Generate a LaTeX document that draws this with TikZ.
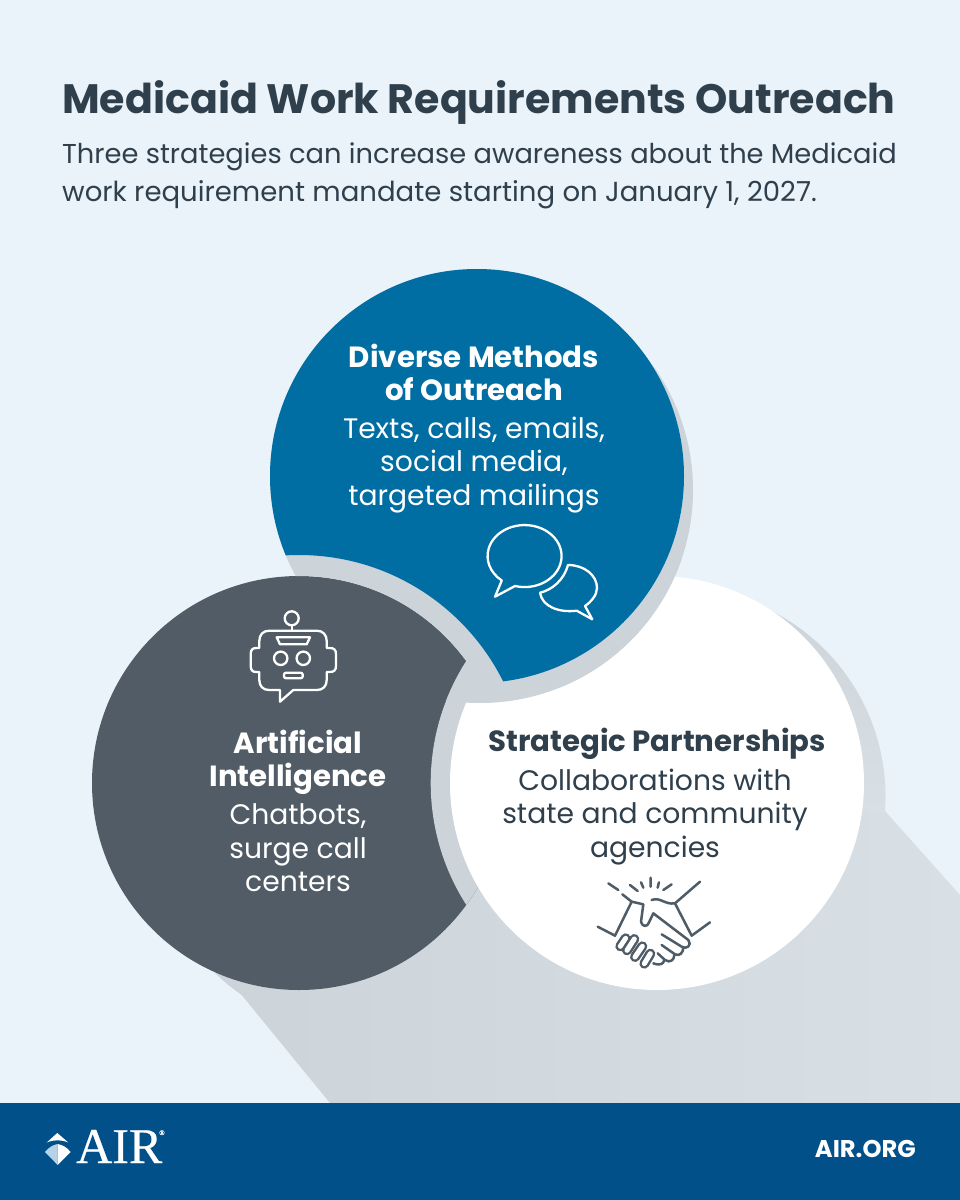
\documentclass[tikz,border=0pt]{standalone}
\usepackage{fontspec}
\setmainfont{Poppins}
\newfontfamily\logofont[FakeBold=0.5]{Liberation Serif}
\definecolor{pagebg}{HTML}{EAF3FA}
\definecolor{shadowgrey}{HTML}{CCD3D9}
\definecolor{shadowlight}{HTML}{D9E0E5}
\definecolor{airblue}{HTML}{006EA3}
\definecolor{slategrey}{HTML}{515C66}
\definecolor{inkdark}{HTML}{2F3F4C}
\definecolor{footerblue}{HTML}{02508A}
\definecolor{logolight}{HTML}{B5D2E6}
\tikzset{
  headfont/.style={font=\fontsize{29.2}{33}\selectfont\bfseries,align=center},
  bodyfont/.style={font=\fontsize{28.2}{33.5}\selectfont,align=center},
  iconwhite/.style={draw=white,line width=2.3pt,line join=round,line cap=round},
  icondark/.style={draw=inkdark!85,line width=2.5pt,line join=round,line cap=round},
}
\newcommand{\bluedisc}{(477,476) circle[radius=207]}
\newcommand{\bluecast}{(480,490) circle[radius=213]}
\newcommand{\greydisc}{(299,783) circle[radius=207]}
\newcommand{\greycast}{(299,783) circle[radius=228]}
\newcommand{\whitedisc}{(657,783) circle[radius=207]}
\newcommand{\whitecast}{(657,783) circle[radius=226.3]}
\newcommand{\pagerect}{(0,0) rectangle (960,1200)}
\begin{document}
\begin{tikzpicture}[x=1pt,y=-1pt]
  \useasboundingbox (0,0) rectangle (960,1200);
  \fill[pagebg] \pagerect;

  % long shadow
  \shade[left color=shadowgrey,right color=shadowlight]
    (215,973) .. controls (223,981) and (232,988) .. (241.7,995) -- (330,1103) -- (960,1103) -- (960,895) -- (885,811)
    -- (657,783) -- cycle;
  \shade[top color=shadowgrey,bottom color=shadowlight]
    (885,811) arc[start angle=4,end angle=-90,radius=208] -- (677,811) -- cycle;

  % grey disc
  \fill[slategrey] \greydisc;
  \begin{scope}
    \clip \greydisc;
    \fill[shadowgrey] \whitecast;
  \end{scope}

  % white disc
  \fill[white] \whitedisc;
  \begin{scope}
    \clip \whitecast;
    \fill[shadowgrey] \bluecast;
  \end{scope}
  \begin{scope}
    \clip (560,300) rectangle (720,720);
    \fill[shadowgrey] \bluecast;
  \end{scope}

  % blue disc
  \begin{scope}[even odd rule]
    \clip \bluedisc;
    \clip \pagerect \greydisc;
    \fill[shadowgrey] \bluedisc;
  \end{scope}
  \begin{scope}[even odd rule]
    \clip \pagerect \greycast;
    \fill[airblue] \bluedisc;
  \end{scope}

  % title
  \node[anchor=base west,inner sep=0pt,text=inkdark,font=\fontsize{41.1}{46}\selectfont\bfseries] (title) at (62,113) {Medicaid Work Requirements Outreach};
  \node[anchor=base west,inner sep=0pt,text=inkdark,font=\fontsize{27.3}{38}\selectfont,align=left] (subtitle) at (62,201) {Three strategies can increase awareness about the Medicaid\\{\fontsize{27.55}{38}\selectfont work requirement mandate starting on January 1, 2027.}};

  % circle texts
  \node[headfont,text=white,inner sep=0pt] (methodshead) at (474,372.5) {Diverse Methods\\of Outreach};
  \node[bodyfont,text=white,inner sep=0pt] (methodsbody) at (474,465) {Texts, calls, emails,\\social media,\\targeted mailings};
  \node[headfont,text=white,inner sep=0pt] (aihead) at (298,762.5) {Artificial\\Intelligence};
  \node[bodyfont,text=white,inner sep=0pt] (aibody) at (298,848) {Chatbots,\\surge call\\centers};
  \node[headfont,text=inkdark,inner sep=0pt] (partnerhead) at (657,744) {Strategic Partnerships};
  \node[bodyfont,text=inkdark,inner sep=0pt] (partnerbody) at (655,817) {Collaborations with\\state and community\\agencies};

  % chat icon
  \draw[iconwhite] (515,586) arc[start angle=105,end angle=-232,x radius=37,y radius=31]
    -- (495,596.7) -- cycle;
  \draw[iconwhite] (568,565) .. controls (584,565) and (597,575) .. (597,588)
    .. controls (597,595) and (591,602) .. (585,606) -- (592.3,619.3) -- (576.7,610.7)
    .. controls (558,613) and (542,606) .. (540,592.7)
    .. controls (552,590) and (564,580) .. cycle;

  % robot icon
  \draw[iconwhite] (291.7,618.3) circle[radius=7];
  \draw[iconwhite] (291.7,625.3) -- (291.7,630.7);
  \draw[iconwhite] (269,630.7) -- (317,630.7) .. controls (323,630.7) and (326.7,635) .. (326.7,641)
    -- (326.7,648) -- (330,648) .. controls (334,648) and (336,650) .. (336,654)
    -- (336,666) .. controls (336,670) and (334,672) .. (330,672) -- (326.7,672) -- (326.7,680)
    .. controls (326.7,686) and (323,690) .. (317,690) -- (293.3,690) -- (280,701.7) -- (280,690)
    -- (269,690) .. controls (263,690) and (259.3,686) .. (259.3,680) -- (259.3,672) -- (256,672)
    .. controls (252.5,672) and (250.7,670) .. (250.7,666) -- (250.7,654)
    .. controls (250.7,650) and (252.5,648) .. (256,648) -- (259.3,648) -- (259.3,641)
    .. controls (259.3,635) and (263,630.7) .. cycle;
  \draw[iconwhite] (276.7,637.3) -- (310,637.3) -- (306.7,644.3) -- (280,644.3) -- cycle;
  \draw[iconwhite] (280.7,658.3) circle[radius=6.7];
  \draw[iconwhite] (303.3,658.3) circle[radius=6.7];
  \draw[iconwhite,rounded corners=2pt] (284,672.7) rectangle (302.7,678.3);

  % handshake icon
  \begin{scope}[shift={(585,865)},x=0.3333pt,y=-0.3333pt]
    \draw[icondark] (70,55) -- (100,75) (135,60) -- (158,78) (168,52) -- (175,68)
      (197,38) -- (197,65) (222,52) -- (218,68) (260,58) -- (235,75);
    \draw[icondark] (38,185) -- (90,212) -- (140,110) -- (112,88);
    \draw[icondark] (375,172) -- (320,212) -- (270,115) -- (345,50);
    \draw[icondark] (140,110) -- (175,118) -- (168,170) .. controls (170,185) and (188,188) .. (192,172) -- (205,145)
      -- (310,225) .. controls (322,240) and (305,255) .. (290,245) -- (230,208);
    \draw[icondark] (200,105) .. controls (225,95) and (240,120) .. (270,115);
    \draw[icondark] (295,247) .. controls (295,262) and (285,275) .. (270,268) -- (230,240);
    \draw[icondark] (268,270) .. controls (268,285) and (255,295) .. (240,285) -- (218,265);
    \draw[icondark] (238,285) .. controls (235,298) and (225,302) .. (205,295);
    \foreach \fingerA/\fingerB/\fingerC/\fingerD in {122/220/106/244,148/222/126/256,172/244/150/276,196/266/178/296}{
      \draw[inkdark!85,line width=10pt,line cap=round] (\fingerA,\fingerB) -- (\fingerC,\fingerD);
      \draw[white,line width=5pt,line cap=round] (\fingerA,\fingerB) -- (\fingerC,\fingerD);
    }
  \end{scope}

  % footer
  \fill[footerblue] (0,1103) rectangle (960,1200);
  \fill[white] (57.3,1133) -- (68.3,1142.5) .. controls (61,1139.5) and (54,1139.5) .. (46.7,1142.5) -- cycle;
  \fill[logolight] (45,1152) .. controls (49,1147) and (53,1145) .. (57.7,1144) -- (57.7,1165) -- cycle;
  \fill[white] (70.7,1152) .. controls (66.5,1147) and (62.5,1145) .. (57.7,1144) -- (57.7,1165) -- cycle;
  \node[anchor=base west,inner sep=0pt,text=white,font=\fontsize{50}{50}\selectfont\logofont] (airword) at (76,1163) {AIR\kern-3pt\raisebox{28pt}{\fontsize{7}{7}\selectfont ®}};
  \node[anchor=base east,inner sep=0pt,text=white,font=\fontsize{24.2}{24}\selectfont\bfseries] (airurl) at (916,1157) {AIR.ORG};
\end{tikzpicture}
\end{document}
